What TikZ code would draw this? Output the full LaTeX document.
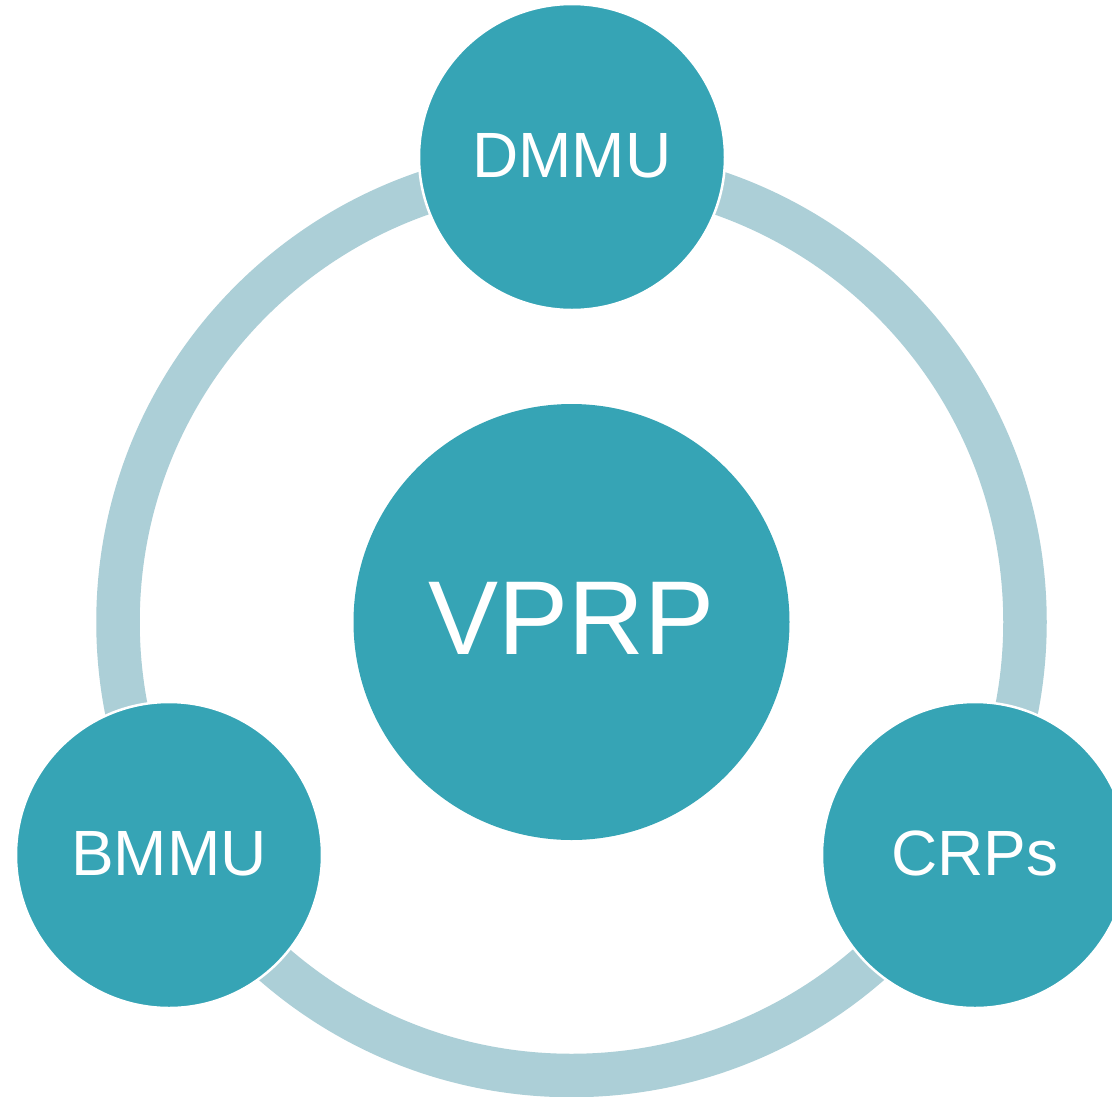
\documentclass[tikz,border=0pt]{standalone}
\usepackage{fontspec}
\setmainfont{Liberation Sans}
\definecolor{ringc}{HTML}{ACCFD7}
\definecolor{nodec}{HTML}{36A4B5}
\begin{document}
\begin{tikzpicture}[x=1pt,y=-1pt,
  small/.style={circle,fill=nodec,draw=white,line width=2.5pt,minimum size=306pt,inner sep=0pt,text=white,font=\fontsize{64}{64}\selectfont},
  big/.style={circle,fill=nodec,minimum size=436pt,inner sep=0pt,text=white,font=\fontsize{105}{105}\selectfont}]
\useasboundingbox (0,0) rectangle (1112,1096);
\clip (0,0) rectangle (1112,1096);
\fill[white] (0,0) rectangle (1112,1096);
\coordinate (c) at (571.5,622);
\draw[ringc,line width=43.5pt] (c) circle[radius=453.5pt];
\node[big] (vprp) at (c) {\raisebox{7pt}{VPRP}};
\node[small] (dmmu) at (572,157) {\raisebox{4pt}{DMMU}};
\node[small] (bmmu) at (169,855) {\raisebox{4pt}{BMMU}};
\node[small] (crps) at (975,855) {\raisebox{4pt}{CRPs}};
\end{tikzpicture}
\end{document}
